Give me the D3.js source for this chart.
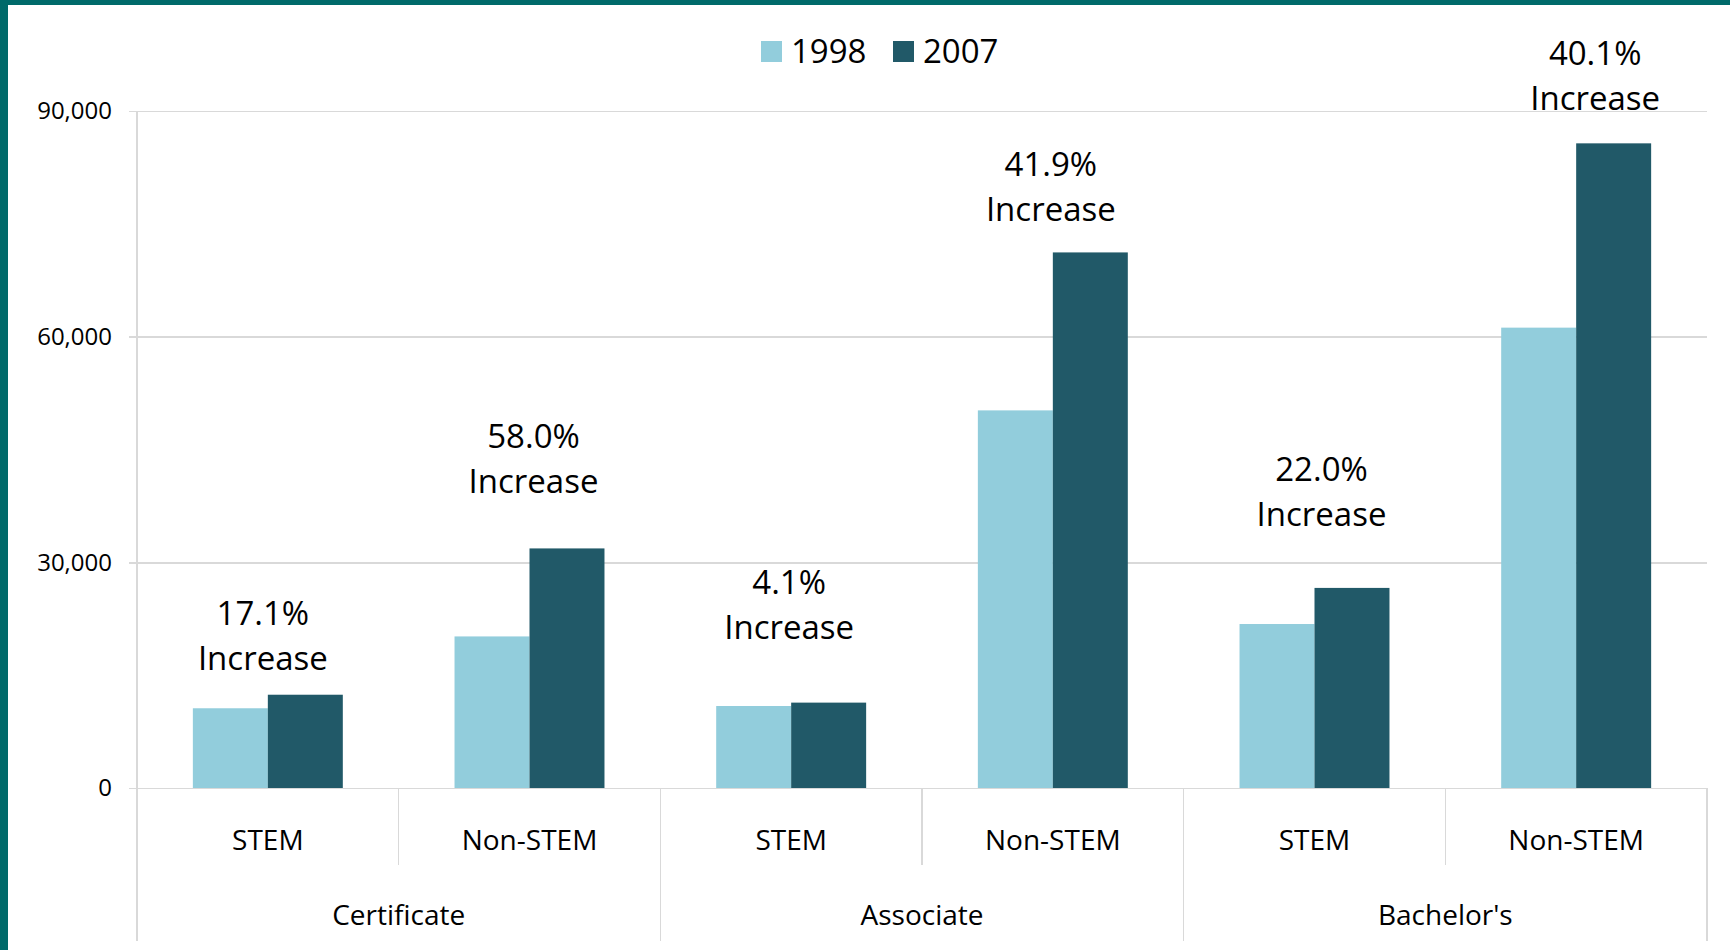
<!DOCTYPE html>
<meta charset="utf-8">
<style>
body { margin: 0; background: #fff; }
text { font-family: "Open Sans", "DejaVu Sans", sans-serif; fill: #000; }
.grid line { stroke: #d9d9d9; stroke-width: 1.5; shape-rendering: crispEdges; }
.grid path { stroke-width: 0; }
.y.axis path { display: none; }
.y.axis line { stroke: #d9d9d9; stroke-width: 1.5; shape-rendering: crispEdges; }
.y.axis text { font-size: 24px; }
.cat line { stroke: #d9d9d9; stroke-width: 1.5; shape-rendering: crispEdges; }
</style>
<body>
<script src="https://d3js.org/d3.v7.min.js"></script>
<script>
// data
var groups = ["Certificate", "Associate", "Bachelor's"];
var fields = ["STEM", "Non-STEM"];
var years = ["1998", "2007"];
var values1998 = [10600, 20150, 10900, 50200, 21800, 61200];
var values2007 = [12400, 31850, 11350, 71200, 26600, 85700];
var increases = ["17.1%", "58.0%", "4.1%", "41.9%", "22.0%", "40.1%"];
var labelAt = [17200, 40700, 21400, 76900, 36300, 91700];   // where the "Increase" line sits
var yTicks = [0, 30000, 60000, 90000];

var colors = {"1998": "#92cddc", "2007": "#215968"};

var W = 1730, H = 950;
var plotLeft = 137, plotRight = 1707, plotTop = 111, zero = 788;
// the notes were nudged by hand in the original
var noteShift = [-5, 4, -2, -2, 7, 19];

var svg = d3.select("body").append("svg")
	.attr("width", W)
	.attr("height", H);

// teal frame on top and left
svg.append("rect").attr("x", 0).attr("y", 0).attr("width", W).attr("height", 5).attr("fill", "#006a6a");
svg.append("rect").attr("x", 0).attr("y", 0).attr("width", 8).attr("height", H).attr("fill", "#006a6a");

var cats = [];
groups.forEach(function(g) { fields.forEach(function(f) { cats.push(g + "|" + f); }); });

var rows = cats.map(function(c, i) {
	return {cat: c, field: c.split("|")[1], "1998": values1998[i], "2007": values2007[i],
		inc: increases[i], at: labelAt[i], shift: noteShift[i]};
});

var slot = d3.scaleBand().domain(cats).range([plotLeft, plotRight]);
var gx = d3.scaleBand().domain(groups).range([plotLeft, plotRight]);
var xs = d3.scaleBand().domain(years).range([0, slot.bandwidth()]).paddingInner(0).paddingOuter(0.745);
var y = d3.scaleLinear().domain([0, 90000]).range([zero, plotTop]);

// gridlines
svg.append("g")
	.attr("class", "grid")
	.attr("transform", "translate(" + plotLeft + ",0)")
	.call(d3.axisLeft(y).tickValues(yTicks).tickSize(-(plotRight - plotLeft)).tickFormat(""));

// y axis
svg.append("g")
	.attr("class", "y axis")
	.attr("transform", "translate(" + plotLeft + ",0)")
	.call(d3.axisLeft(y).tickValues(yTicks).tickSize(8).tickPadding(17).tickFormat(d3.format(",")));

// vertical axis line
svg.append("line")
	.attr("x1", plotLeft).attr("x2", plotLeft)
	.attr("y1", plotTop).attr("y2", 941)
	.style("stroke", "#d9d9d9").style("stroke-width", 1.5).style("shape-rendering", "crispEdges");

// bars
var bars = svg.append("g").selectAll("g")
	.data(rows)
	.enter().append("g")
	.attr("transform", function(d) { return "translate(" + slot(d.cat) + ",0)"; });

bars.selectAll("rect")
	.data(function(d) { return years.map(function(k) { return {key: k, value: d[k]}; }); })
	.enter().append("rect")
	.attr("x", function(d) { return xs(d.key); })
	.attr("width", xs.bandwidth())
	.attr("y", function(d) { return y(d.value); })
	.attr("height", function(d) { return zero - y(d.value); })
	.attr("fill", function(d) { return colors[d.key]; });

// increase notes
var notes = svg.append("g").selectAll("text")
	.data(rows)
	.enter().append("text")
	.attr("text-anchor", "middle")
	.style("font-size", "33px");
notes.append("tspan")
	.attr("x", function(d) { return slot(d.cat) + slot.bandwidth() / 2 + d.shift; })
	.attr("y", function(d) { return y(d.at) - 45; })
	.attr("dy", "0.35em")
	.text(function(d) { return d.inc; });
notes.append("tspan")
	.attr("x", function(d) { return slot(d.cat) + slot.bandwidth() / 2 + d.shift; })
	.attr("y", function(d) { return y(d.at); })
	.attr("dy", "0.35em")
	.text("Increase");

// category axis (two levels)
var cat = svg.append("g").attr("class", "cat");
var edges = cats.map(function(c) { return slot(c); }).concat([plotRight]);
cat.selectAll("line")
	.data(edges)
	.enter().append("line")
	.attr("x1", function(d) { return d; })
	.attr("x2", function(d) { return d; })
	.attr("y1", zero)
	.attr("y2", function(d, i) { return i % 2 === 0 ? 941 : 865; });

cat.selectAll("text.field")
	.data(rows)
	.enter().append("text")
	.attr("class", "field")
	.attr("x", function(d) { return slot(d.cat) + slot.bandwidth() / 2; })
	.attr("y", 840)
	.attr("dy", "0.35em")
	.attr("text-anchor", "middle")
	.style("font-size", "28px")
	.text(function(d) { return d.field; });

cat.selectAll("text.group")
	.data(groups)
	.enter().append("text")
	.attr("class", "group")
	.attr("x", function(d) { return gx(d) + gx.bandwidth() / 2; })
	.attr("y", 915)
	.attr("dy", "0.35em")
	.attr("text-anchor", "middle")
	.style("font-size", "28px")
	.text(function(d) { return d; });

// legend
var legendX = [761, 893];
var legend = svg.append("g").selectAll("g")
	.data(years)
	.enter().append("g")
	.attr("transform", function(d, i) { return "translate(" + legendX[i] + ",41)"; });
legend.append("rect")
	.attr("width", 21).attr("height", 21)
	.attr("fill", function(d) { return colors[d]; });
legend.append("text")
	.attr("x", 30)
	.attr("y", 10.5)
	.attr("dy", "0.35em")
	.style("font-size", "33px")
	.text(function(d) { return d; });
</script>
